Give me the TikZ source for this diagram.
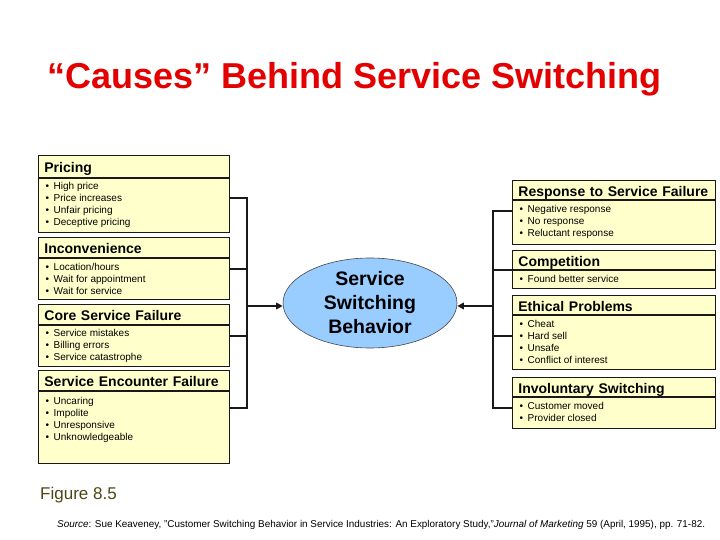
\documentclass[tikz,border=0pt]{standalone}
\usepackage{fontspec}
\setmainfont{Liberation Sans}
\usetikzlibrary{arrows.meta,shapes.geometric}
\definecolor{figline}{RGB}{25,25,25}
\definecolor{boxfill}{RGB}{255,255,204}
\definecolor{ovalfill}{RGB}{153,204,255}
\definecolor{titlered}{RGB}{226,0,0}
\definecolor{figolive}{RGB}{77,70,20}
\newcommand\bul{\textbullet\hspace{4.5pt}}
\tikzset{
  hdl/.style  ={draw=figline, line width=0.8pt, fill=boxfill, anchor=north west, inner xsep=6pt, inner ysep=0pt, text width=179pt, text height=13pt, text depth=0pt, minimum height=20pt, font=\fontsize{14}{16}\selectfont\bfseries},
  hdr/.style  ={hdl, text width=191pt, minimum height=19pt},
  bd/.style   ={draw=figline, line width=0.8pt, fill=boxfill, anchor=north west, minimum width=#1},
  lst/.style  ={anchor=north west, align=left, inner xsep=7.5pt, inner ysep=5.5pt, font=\fontsize{10}{12}\selectfont},
  oval/.style ={ellipse, draw=figline!80, fill=ovalfill, line width=0.6pt, minimum width=174pt, minimum height=90pt, inner sep=0pt},
  ovtxt/.style={align=center, inner sep=0pt, font=\fontsize{19.5}{24}\selectfont\bfseries},
  conn/.style ={draw=figline, line width=1.2pt},
  ptr/.style  ={draw=figline, line width=2.2pt, -{Triangle[length=6.5pt,width=6.5pt]}},
}

\begin{document}
\begin{tikzpicture}[x=1pt,y=-1pt]
  \useasboundingbox (0,0) rectangle (720,540);
  \node[anchor=base west, inner sep=0pt, text=titlered, font=\fontsize{36}{40}\selectfont\bfseries] (title) at (47,89) {“Causes” Behind Service Switching};

  % causes on the left
  \node[hdl, minimum height=22pt] (pricing) at (38,155) {Pricing};
  \node[bd=191pt, minimum height=54pt] (pricing-b) at (pricing.south west) {};
  \node[lst, inner ysep=4.5pt] at (pricing-b.north west) {\bul High price\\\bul Price increases\\\bul Unfair pricing\\\bul Deceptive pricing};
  \node[hdl] (incon) at (38,237) {Inconvenience};
  \node[bd=191pt, minimum height=41pt] (incon-b) at (incon.south west) {};
  \node[lst] at (incon-b.north west) {\bul Location/hours\\\bul Wait for appointment\\\bul Wait for service};
  \node[hdl] (core) at (38,304) {Core Service Failure};
  \node[bd=191pt, minimum height=41pt] (core-b) at (core.south west) {};
  \node[lst, inner ysep=4.5pt] at (core-b.north west) {\bul Service mistakes\\\bul Billing errors\\\bul Service catastrophe};
  \node[hdl] (encounter) at (38,370) {Service Encounter Failure};
  \node[bd=191pt, minimum height=72pt] (encounter-b) at (encounter.south west) {};
  \node[lst, inner ysep=6.5pt] at (encounter-b.north west) {\bul Uncaring\\\bul Impolite\\\bul Unresponsive\\\bul Unknowledgeable};

  % causes on the right
  \node[hdr] (response) at (512,180) {Response to Service Failure};
  \node[bd=203pt, minimum height=44pt] (response-b) at (response.south west) {};
  \node[lst] at (response-b.north west) {\bul Negative response\\\bul No response\\\bul Reluctant response};
  \node[hdr] (compet) at (512,250) {Competition};
  \node[bd=203pt, minimum height=18pt] (compet-b) at (compet.south west) {};
  \node[lst, inner ysep=5pt] at (compet-b.north west) {\bul Found better service};
  \node[hdr] (ethical) at (512,295) {Ethical Problems};
  \node[bd=203pt, minimum height=54pt] (ethical-b) at (ethical.south west) {};
  \node[lst] at (ethical-b.north west) {\bul Cheat\\\bul Hard sell\\\bul Unsafe\\\bul Conflict of interest};
  \node[hdr] (involun) at (512,377) {Involuntary Switching};
  \node[bd=203pt, minimum height=31pt] (involun-b) at (involun.south west) {};
  \node[lst] at (involun-b.north west) {\bul Customer moved\\\bul Provider closed};

  % behaviour in the middle
  \node[oval, label={[ovtxt]center:Service\\Switching\\Behavior}] (ssb) at (370,303) {};

  \coordinate (ljoin) at (247,306);
  \coordinate (rjoin) at (493,306);
  \draw[conn] (pricing-b.east |- 0,198) -| (ljoin);
  \draw[conn] (incon-b.east |- 0,269) -| (ljoin);
  \draw[conn] (core-b.east |- 0,336) -| (ljoin);
  \draw[conn] (encounter-b.east |- 0,408) -| (ljoin);
  \draw[conn] (response-b.west |- 0,211) -| (rjoin);
  \draw[conn] (compet-b.west |- 0,270) -| (rjoin);
  \draw[conn] (ethical-b.west |- 0,336) -| (rjoin);
  \draw[conn] (involun-b.west |- 0,408) -| (rjoin);
  \draw[ptr] (ljoin) -- (ljoin -| ssb.west);
  \draw[ptr] (rjoin) -- (rjoin -| ssb.east);

  \node[anchor=base west, inner sep=0pt, text=figolive, font=\fontsize{17}{20}\selectfont] (fig) at (40,499) {Figure 8.5};
  \node[anchor=base west, inner sep=0pt, font=\fontsize{9.9}{12}\selectfont] (src) at (57,527) {\textit{Source}: Sue Keaveney, "Customer Switching Behavior in Service Industries: An Exploratory Study,"\textit{Journal of Marketing} 59 (April, 1995), pp. 71-82.};
\end{tikzpicture}
\end{document}
